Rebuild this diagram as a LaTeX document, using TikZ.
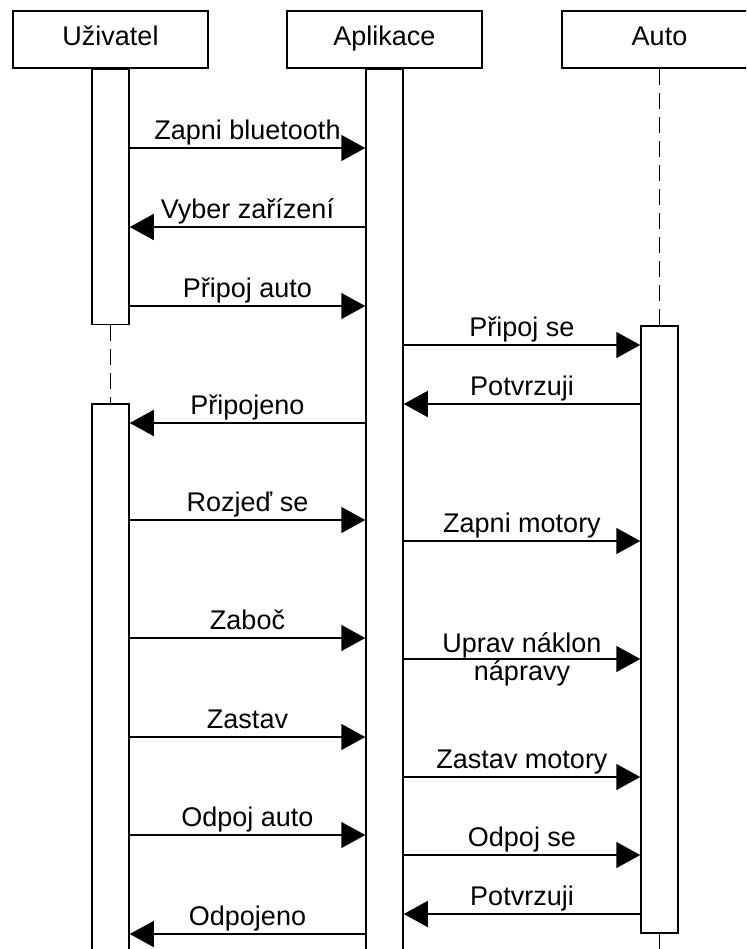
\documentclass[tikz,border=0pt]{standalone}
\usepackage{fontspec}
\setmainfont{Liberation Sans}
\usetikzlibrary{arrows.meta}

\begin{document}
\begin{tikzpicture}[x=0.5pt, y=-0.5pt, line width=0.75pt,
    >={Triangle[length=12pt, width=13pt]},
    head/.style={draw, minimum width=97.5pt, minimum height=28.5pt, inner sep=0pt,
      text height=9.7pt, text depth=4.2pt, font=\fontsize{13.5}{14}\selectfont},
    bar/.style={draw, fill=white, minimum width=18.5pt, inner sep=0pt, anchor=north},
    life/.style={dash pattern=on 8pt off 4pt},
    lbl/.style={midway, anchor=base, yshift=4.5pt, inner sep=0pt,
      font=\fontsize{13.5}{14}\selectfont}]
    \useasboundingbox (0,0) rectangle (746,949);
    \clip (0,0) rectangle (746,949);

    \node[head] (uziv) at (110.5,39.5) {Uživatel};
    \node[head] (apl)  at (384.5,39.5) {Aplikace};
    \node[head] (auto) at (659.5,39.5) {Auto};

    \node[bar, minimum height=127.5pt] (u1) at (uziv.south) {};
    \node[bar, minimum height=276pt]   (u2) at (110.5,403) {};
    \node[bar, minimum height=443.5pt] (a1) at (apl.south) {};
    \node[bar, minimum height=303.5pt] (c1) at (659.5,325) {};

    \draw[life] (u1.south) -- (u2.north);
    \draw[life] (auto.south) -- (c1.north);
    \draw[life] (c1.south) -- ++(0,30);

    \coordinate (m1) at (0,148);
    \draw[->] (u1.east |- m1) -- (a1.west |- m1) node[lbl] {Zapni bluetooth};
    \coordinate (m2) at (0,227);
    \draw[->] (a1.west |- m2) -- (u1.east |- m2) node[lbl] {Vyber zařízení};
    \coordinate (m3) at (0,306);
    \draw[->] (u1.east |- m3) -- (a1.west |- m3) node[lbl] {Připoj auto};
    \coordinate (m4) at (0,345);
    \draw[->] (a1.east |- m4) -- (c1.west |- m4) node[lbl] {Připoj se};
    \coordinate (m5) at (0,404);
    \draw[->] (c1.west |- m5) -- (a1.east |- m5) node[lbl] {Potvrzuji};
    \coordinate (m6) at (0,423);
    \draw[->] (a1.west |- m6) -- (u2.east |- m6) node[lbl] {Připojeno};

    \coordinate (m7) at (0,520);
    \draw[->] (u2.east |- m7) -- (a1.west |- m7) node[lbl] {Rozjeď se};
    \coordinate (m8) at (0,541);
    \draw[->] (a1.east |- m8) -- (c1.west |- m8) node[lbl] {Zapni motory};
    \coordinate (m9) at (0,638);
    \draw[->] (u2.east |- m9) -- (a1.west |- m9) node[lbl] {Zaboč};
    \coordinate (m10) at (0,659);
    \draw[->] (a1.east |- m10) -- (c1.west |- m10)
      node[midway, align=center, font=\fontsize{13.5}{14}\selectfont] {Uprav náklon\\nápravy};
    \coordinate (m11) at (0,737);
    \draw[->] (u2.east |- m11) -- (a1.west |- m11) node[lbl] {Zastav};
    \coordinate (m12) at (0,777);
    \draw[->] (a1.east |- m12) -- (c1.west |- m12) node[lbl] {Zastav motory};

    \coordinate (m13) at (0,835);
    \draw[->] (u2.east |- m13) -- (a1.west |- m13) node[lbl] {Odpoj auto};
    \coordinate (m14) at (0,855);
    \draw[->] (a1.east |- m14) -- (c1.west |- m14) node[lbl] {Odpoj se};
    \coordinate (m15) at (0,914);
    \draw[->] (c1.west |- m15) -- (a1.east |- m15) node[lbl] {Potvrzuji};
    \coordinate (m16) at (0,934);
    \draw[->] (a1.west |- m16) -- (u2.east |- m16) node[lbl] {Odpojeno};
\end{tikzpicture}
\end{document}
